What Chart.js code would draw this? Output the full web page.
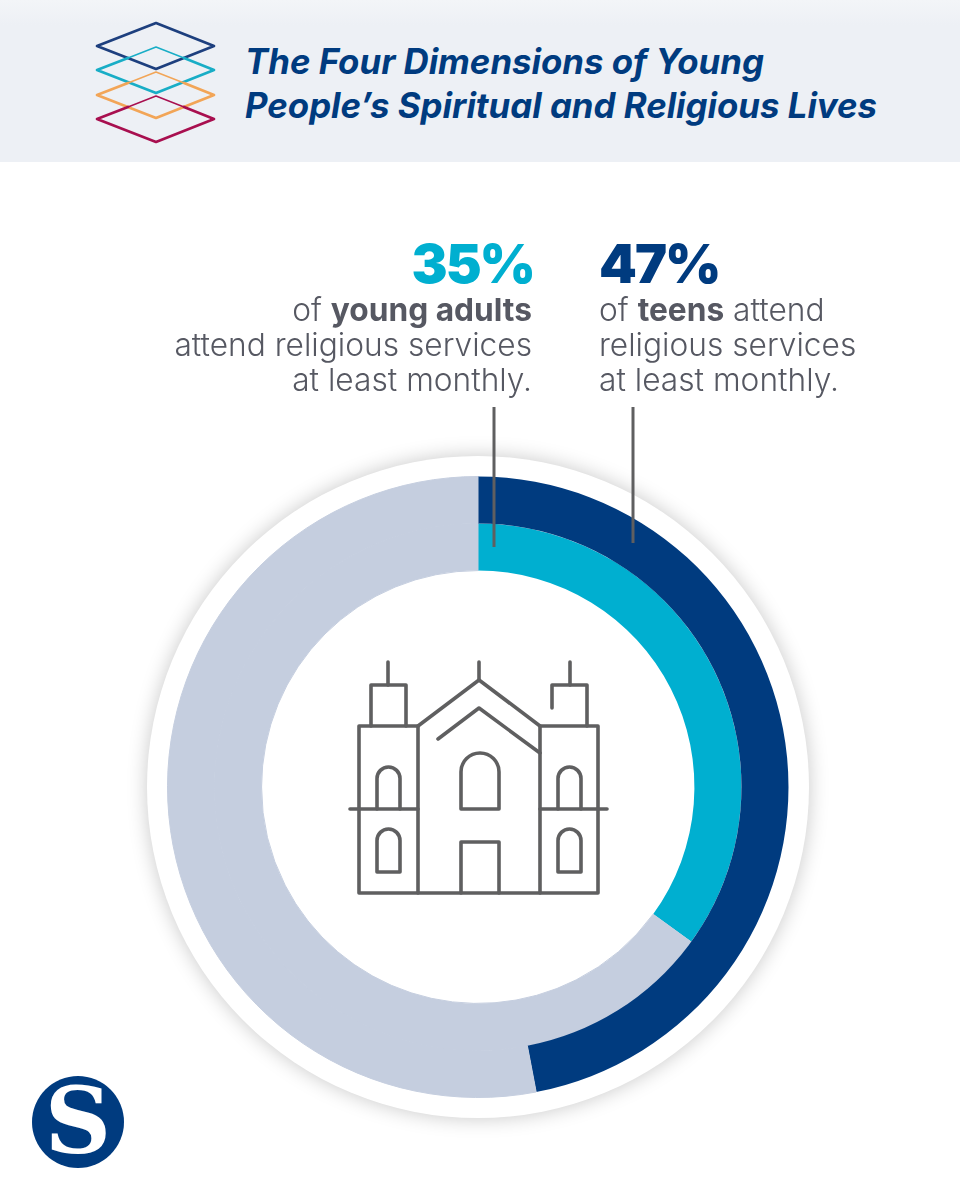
<!DOCTYPE html>
<html>
<head>
<meta charset="utf-8">
<script src="https://cdn.jsdelivr.net/npm/chart.js@4"></script>
<style>
  html, body { margin: 0; padding: 0; background: #fff; }
  #page { position: relative; width: 960px; height: 1200px; overflow: hidden; font-family: Inter, sans-serif; }
  #header { position: absolute; left: 0; top: 0; width: 960px; height: 162px; background: linear-gradient(#f3f5f8, #edf0f5 25px); }
  #title { position: absolute; left: 245px; top: 40px; color: #003b7f; font-size: 34.8px; line-height: 43.5px; font-weight: 700; font-style: italic; white-space: nowrap; }
  #disc { position: absolute; left: 147px; top: 456px; width: 662px; height: 662px; border-radius: 50%; background: #fff; box-shadow: 0 0 20px rgba(0,0,0,0.22); }
  #chart { position: absolute; left: 167px; top: 476px; }
  #overlay { position: absolute; left: 0; top: 0; }
  .note { position: absolute; top: 232px; color: #565862; font-size: 31.7px; line-height: 35px; white-space: nowrap; font-weight: 300; }
  .note b { font-weight: 700; }
  .note .pct { display: block; position: relative; top: 2px; font-size: 54px; line-height: 60px; font-weight: 900; letter-spacing: -2px; }
  #noteAdults { right: 428px; text-align: right; }
  #noteAdults .pct { color: #00afd0; left: 2px; }
  #noteTeens { left: 599px; }
  #noteTeens .pct { color: #003b7f; }
  #badge { position: absolute; left: 32px; top: 1076px; width: 92px; height: 92px; border-radius: 50%; background: #003b7f; color: #fff; text-align: center; font: 700 92px/90px "DejaVu Serif", serif; }
</style>
</head>
<body>
<div id="page">
  <div id="header"></div>
  <div id="title">The Four Dimensions of Young<br>People’s Spiritual and Religious Lives</div>

  <div id="disc"></div>
  <canvas id="chart" width="622" height="622"></canvas>

  <svg id="overlay" width="960" height="1200" fill="none" stroke-linecap="round" stroke-linejoin="round">
    <!-- stacked diamonds in the header -->
    <g stroke-width="2.7">
      <path stroke="#1d3f7e" d="M97 46L156 23L214 46L156 69Z"/>
      <path stroke="#18adc6" d="M128 58L97 70L156 93L214 70L184 58"/>
      <path stroke="#18adc6" stroke-width="1.4" d="M128 58L156 47L184 58"/>
      <path stroke="#f2a557" d="M128 83L97 95L156 118L214 95L184 83"/>
      <path stroke="#f2a557" stroke-width="1.4" d="M128 83L156 72L184 83"/>
      <path stroke="#a80f4f" d="M128 107L97 119L156 142L214 119L184 107"/>
      <path stroke="#a80f4f" stroke-width="1.4" d="M128 107L156 96L184 107"/>
    </g>
    <!-- leader lines -->
    <g stroke="#5f5f60" stroke-width="3" stroke-linecap="butt">
      <path d="M494 407V547"/>
      <path d="M633 407V543"/>
    </g>
    <!-- church -->
    <g stroke="#5f5f60" stroke-width="3.6">
      <path d="M359 726H418V893H359Z"/>
      <path d="M540 726H598V893H540Z"/>
      <path d="M418 893H540"/>
      <path d="M371 726V685H406V726"/>
      <path d="M388 662V685"/>
      <path d="M552 708V685H587V726"/>
      <path d="M570 662V685"/>
      <path d="M418 726L479 680L540 726"/>
      <path d="M479 662V680"/>
      <path d="M438 739L479 708L540 753"/>
      <path d="M461 809V772A19 19 0 0 1 499 772V809Z"/>
      <path d="M350 809H418"/>
      <path d="M540 809H607"/>
      <path d="M377 809V778.500A11.500 11.500 0 0 1 400 778.500V809"/>
      <path d="M558 809V778.500A11.500 11.500 0 0 1 581 778.500V809"/>
      <path d="M377 872V840.500A11.500 11.500 0 0 1 400 840.500V872Z"/>
      <path d="M558 872V840.500A11.500 11.500 0 0 1 581 840.500V872Z"/>
      <path d="M461 893V842H499V893"/>
    </g>
  </svg>

  <div class="note" id="noteAdults"><span class="pct">35%</span>of <b>young adults</b><br>attend religious services<br>at least monthly.</div>
  <div class="note" id="noteTeens"><span class="pct">47%</span>of <b>teens</b> attend<br>religious services<br>at least monthly.</div>

  <div id="badge">S</div>
</div>

<script>
// data
const sliceLabels = ["Attend at least monthly", "Do not"];
const teensValues = [47, 53];
const youngAdultValues = [35, 65];

const NAVY = "#003b7f", CYAN = "#00afd0", PALE = "#c5cedf";

new Chart(document.getElementById("chart"), {
    type: "doughnut",
    data: {
        labels: sliceLabels,
        datasets: [
            // pale arcs get a same-colour border so no seam shows between the two rings
            { label: "Teens", data: teensValues, backgroundColor: [NAVY, PALE], borderColor: PALE, borderWidth: [0, 1] },
            { label: "Young adults", data: youngAdultValues, backgroundColor: [CYAN, PALE], borderColor: PALE, borderWidth: [0, 1] }
        ]
    },
    options: {
        responsive: false,
        animation: false,
        cutout: "69.7%",
        layout: { padding: 0 },
        plugins: { legend: { display: false }, tooltip: { enabled: false } }
    }
});
</script>
</body>
</html>
